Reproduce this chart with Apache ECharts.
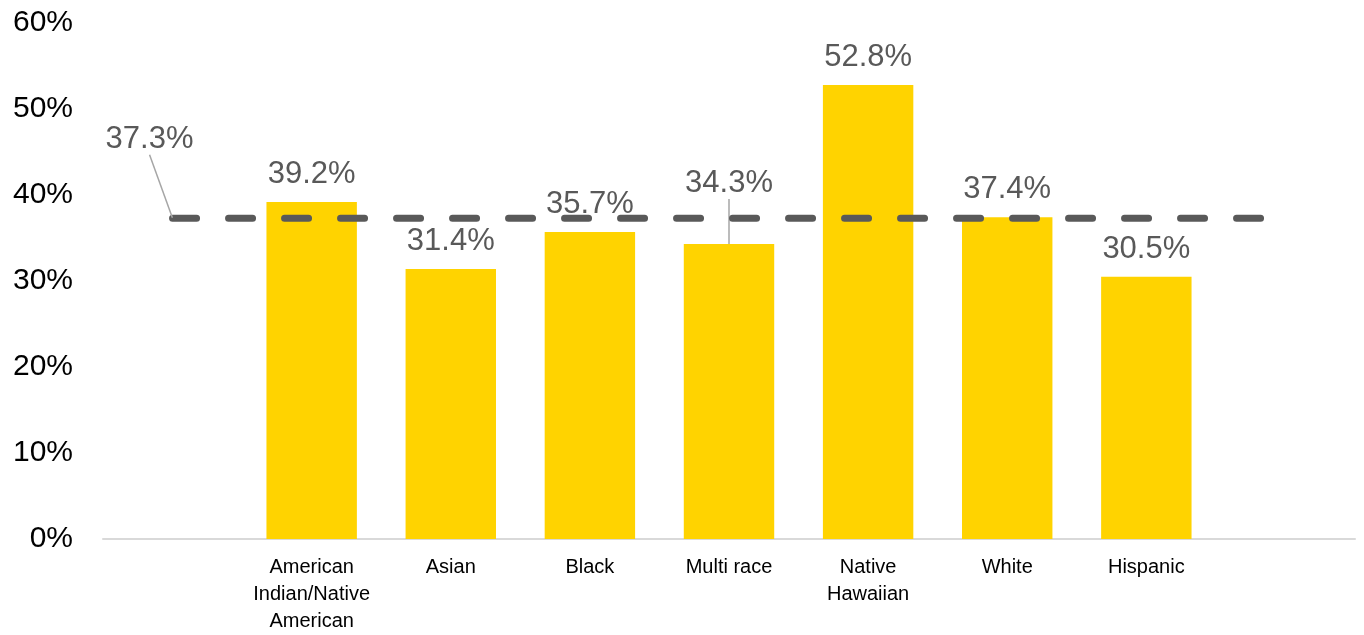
<!DOCTYPE html>
<html>
<head>
<meta charset="utf-8">
<script src="https://cdn.jsdelivr.net/npm/echarts@6/dist/echarts.min.js"></script>
<style>
  html, body { margin: 0; padding: 0; background: #fff; }
  #chart { width: 1364px; height: 635px; }
</style>
</head>
<body>
<div id="chart"></div>
<script>
// Share of each group, with blank padding slots at both ends of the axis
const categories = ['', 'American\nIndian/Native\nAmerican', 'Asian', 'Black', 'Multi race', 'Native\nHawaiian', 'White', 'Hispanic', ''];
const groupRates = [null, 39.2, 31.4, 35.7, 34.3, 52.8, 37.4, 30.5, null];
const overallRate = 37.3;
const overallLine = categories.map(() => overallRate);
const yTicks = { min: 0, max: 60, interval: 10 };

const FONT = '"Liberation Sans", Arial, sans-serif';
const GOLD = '#FFD300';
const GREY = '#595959';
const LEADER = { show: true, lineStyle: { color: '#a6a6a6', width: 1.5 } };
const liftedBar = categories.indexOf('Multi race');

const chart = echarts.init(document.getElementById('chart'), null, { renderer: 'canvas' });

const barData = groupRates.map((v, i) => {
  if (v === null) return null;
  // the lifted label gets a leader line back to its bar
  return i === liftedBar ? { value: v, labelLine: LEADER } : v;
});

const lineData = overallLine.map((v, i) => {
  if (i !== 0) return v;
  return {
    value: v,
    label: {
      show: true,
      position: 'top',
      distance: 0,
      formatter: (p) => p.value.toFixed(1) + '%',
      fontFamily: FONT,
      fontSize: 31,
      color: GREY
    },
    labelLine: LEADER
  };
});

chart.setOption({
  animation: false,
  grid: { left: 103, right: 9, top: 23, bottom: 95, containLabel: false },
  xAxis: {
    type: 'category',
    data: categories,
    axisLine: { show: true, lineStyle: { color: '#d9d9d9', width: 2 } },
    axisTick: { show: false },
    axisLabel: {
      interval: 0,
      margin: 15,
      fontFamily: FONT,
      fontSize: 20,
      lineHeight: 27,
      color: '#000'
    },
    splitLine: { show: false }
  },
  yAxis: {
    type: 'value',
    min: yTicks.min,
    max: yTicks.max,
    interval: yTicks.interval,
    axisLine: { show: false },
    axisTick: { show: false },
    splitLine: { show: false },
    axisLabel: {
      margin: 30,
      fontFamily: FONT,
      fontSize: 30,
      color: '#000',
      formatter: (v) => v + '%'
    }
  },
  series: [
    {
      type: 'bar',
      data: barData,
      barWidth: '65%',
      itemStyle: { color: GOLD },
      label: {
        show: true,
        position: 'top',
        distance: 12,
        fontFamily: FONT,
        fontSize: 31,
        color: GREY,
        formatter: (p) => p.value.toFixed(1) + '%'
      },
      // lift one label clear of the dashed average line
      labelLayout: (p) => (p.dataIndex === liftedBar ? { dy: -33 } : {}),
      z: 2
    },
    {
      type: 'line',
      data: lineData,
      symbol: 'circle',
      symbolSize: 1,
      showSymbol: true,
      itemStyle: { color: 'rgba(0,0,0,0)' },
      lineStyle: { color: GREY, width: 7, type: [24, 32], cap: 'round' },
      label: { show: false },
      // average label sits up and to the left of the line start
      labelLayout: (p) => (p.dataIndex === 0 ? { dx: -23, dy: -63 } : {}),
      z: 10
    }
  ]
});
</script>
</body>
</html>
